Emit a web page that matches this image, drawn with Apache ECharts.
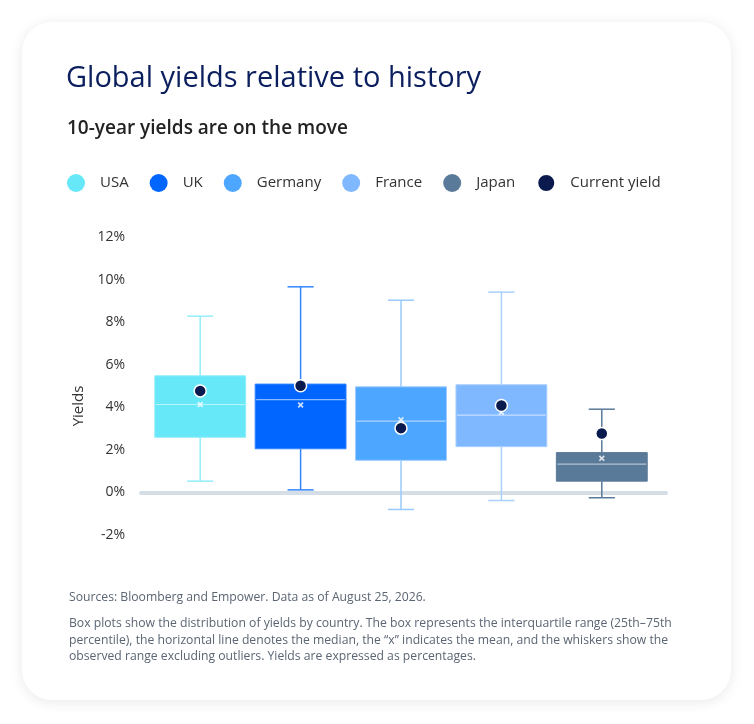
<!DOCTYPE html>
<html>
<head>
<meta charset="utf-8">
<script src="https://cdn.jsdelivr.net/npm/echarts@6/dist/echarts.min.js"></script>
<style>
  html, body { margin: 0; padding: 0; background: #ffffff; width: 754px; height: 724px; overflow: hidden; }
  #card { position: absolute; left: 22px; top: 22px; width: 709px; height: 678px; border-radius: 30px; background: #fff; box-shadow: 0 2px 14px rgba(0,0,0,0.09); }
  #chart { position: absolute; left: 0; top: 0; width: 754px; height: 724px; }
</style>
</head>
<body>
<div id="card"></div>
<div id="chart"></div>
<script>
const categories = ['USA', 'UK', 'Germany', 'France', 'Japan'];
const whiskerLow = [0.53, 0.12, -0.80, -0.38, -0.25];
const q1Values = [2.59, 2.05, 1.51, 2.15, 0.53];
const medianValues = [4.13, 4.36, 3.35, 3.63, 1.33];
const q3Values = [5.48, 5.09, 4.96, 5.06, 1.87];
const whiskerHigh = [8.28, 9.66, 9.03, 9.41, 3.91];
const meanValues = [4.13, 4.11, 3.41, 3.77, 1.60];
const currentYield = [4.77, 5.01, 3.02, 4.08, 2.77];
const yTicks = { min: -2, max: 12, interval: 2 };

const fillColors = ['#67e8f9', '#0066ff', '#4da6ff', '#80b8ff', '#5a7a99'];
const whiskerColors = ['#93eefa', '#3385ff', '#99caff', '#a9d0ff', '#5a7a99'];
const currentColor = '#0a1a4f';

function renderBox(params, api) {
  const x = api.value(0);
  const pLow = api.coord([x, api.value(1)]);
  const pQ1 = api.coord([x, api.value(2)]);
  const pMed = api.coord([x, api.value(3)]);
  const pQ3 = api.coord([x, api.value(4)]);
  const pHigh = api.coord([x, api.value(5)]);
  const band = api.size([1, 0])[0];
  const bw = band * 0.905;
  const cw = band * 0.26;
  const cx = pMed[0];
  const idx = params.seriesIndex;
  const wc = whiskerColors[idx];
  const fc = fillColors[idx];
  const lineStyle = { stroke: wc, lineWidth: 1.5 };
  return {
    type: 'group',
    children: [
      { type: 'line', shape: { x1: cx, y1: pQ3[1], x2: cx, y2: pHigh[1] }, style: lineStyle },
      { type: 'line', shape: { x1: cx, y1: pQ1[1], x2: cx, y2: pLow[1] }, style: lineStyle },
      { type: 'line', shape: { x1: cx - cw / 2, y1: pHigh[1], x2: cx + cw / 2, y2: pHigh[1] }, style: lineStyle },
      { type: 'line', shape: { x1: cx - cw / 2, y1: pLow[1], x2: cx + cw / 2, y2: pLow[1] }, style: lineStyle },
      { type: 'rect', shape: { x: cx - bw / 2, y: pQ3[1], width: bw, height: pQ1[1] - pQ3[1] }, style: { fill: fc, stroke: wc, lineWidth: 1 } },
      { type: 'line', shape: { x1: cx - bw / 2 + 1, y1: pMed[1], x2: cx + bw / 2 - 1, y2: pMed[1] }, style: { stroke: 'rgba(255,255,255,0.55)', lineWidth: 1.2 } }
    ]
  };
}

const boxSeries = categories.map((name, i) => ({
  name: name,
  type: 'custom',
  xAxisIndex: 0,
  yAxisIndex: 0,
  renderItem: renderBox,
  itemStyle: { color: fillColors[i] },
  encode: { x: 0, y: [1, 2, 3, 4, 5] },
  data: [[i, whiskerLow[i], q1Values[i], medianValues[i], q3Values[i], whiskerHigh[i]]],
  z: 2
}));

const crossPath = 'path://M2,0L5,3L8,0L10,2L7,5L10,8L8,10L5,7L2,10L0,8L3,5L0,2Z';

const option = {
  animation: false,
  backgroundColor: 'transparent',
  textStyle: { fontFamily: 'Open Sans' },
  title: [
    { text: 'Global yields relative to history', left: 66, top: 64, padding: 0,
      textStyle: { fontFamily: 'Open Sans', fontSize: 29, fontWeight: 400, color: '#0b1f5e' } },
    { text: '10-year yields are on the move', left: 67, top: 119, padding: 0,
      textStyle: { fontFamily: 'Open Sans', fontSize: 19, fontWeight: 600, color: '#222222' } },
    { text: 'Sources: Bloomberg and Empower. Data as of August 25, 2026.', left: 69, top: 589, padding: 0,
      textStyle: { fontFamily: 'Open Sans', fontSize: 12.2, fontWeight: 400, color: '#5b6573', lineHeight: 17 } },
    { text: 'Box plots show the distribution of yields by country. The box represents the interquartile range (25th–75th\npercentile), the horizontal line denotes the median, the “x” indicates the mean, and the whiskers show the\nobserved range excluding outliers. Yields are expressed as percentages.',
      left: 69, top: 615, padding: 0,
      textStyle: { fontFamily: 'Open Sans', fontSize: 12.2, fontWeight: 400, color: '#5b6573', lineHeight: 16.7 } }
  ],
  legend: {
    data: ['USA', 'UK', 'Germany', 'France', 'Japan', 'Current yield'],
    left: 67, top: 173, padding: 0,
    icon: 'circle',
    itemWidth: 18, itemHeight: 18,
    itemGap: 21,
    selectedMode: false,
    textStyle: { fontFamily: 'Open Sans', fontSize: 15, color: '#333333', padding: [0, 0, 0, 10] }
  },
  grid: [
    { left: 150, right: 102, top: 237, bottom: 189 },
    { left: 141, right: 88, top: 237, bottom: 189 }
  ],
  xAxis: [
    { type: 'category', gridIndex: 0, data: categories, boundaryGap: true,
      axisLine: { show: false }, axisTick: { show: false }, axisLabel: { show: false }, splitLine: { show: false } },
    { type: 'value', gridIndex: 1, min: 0, max: 1,
      axisLine: { show: true, onZero: true, lineStyle: { color: '#d5dde6', width: 4 } },
      axisTick: { show: false }, axisLabel: { show: false }, splitLine: { show: false } }
  ],
  yAxis: [
    { type: 'value', gridIndex: 0, min: yTicks.min, max: yTicks.max, interval: yTicks.interval,
      name: 'Yields', nameLocation: 'middle', nameGap: 62,
      nameTextStyle: { fontFamily: 'Open Sans', fontSize: 15, color: '#333333', padding: [0, 40, 0, 0] },
      axisLine: { show: false }, axisTick: { show: false }, splitLine: { show: false },
      axisLabel: { formatter: '{value}%', fontFamily: 'Open Sans', fontSize: 14, color: '#333333', margin: 25 } },
    { type: 'value', gridIndex: 1, min: yTicks.min, max: yTicks.max, interval: yTicks.interval, show: false }
  ],
  series: boxSeries.concat([
    { name: 'Mean', type: 'scatter', xAxisIndex: 0, yAxisIndex: 0,
      symbol: crossPath, symbolSize: 6,
      itemStyle: { color: '#ffffff' },
      data: categories.map((c, i) => [i, meanValues[i]]), z: 3 },
    { name: 'Current yield', type: 'scatter', xAxisIndex: 0, yAxisIndex: 0,
      symbol: 'circle', symbolSize: 12,
      itemStyle: { color: currentColor, borderColor: '#ffffff', borderWidth: 1.5, opacity: 1 },
      data: categories.map((c, i) => [i, currentYield[i]]), z: 4 }
  ])
};

const chart = echarts.init(document.getElementById('chart'), null, { renderer: 'canvas' });
chart.setOption(option);
</script>
</body>
</html>
